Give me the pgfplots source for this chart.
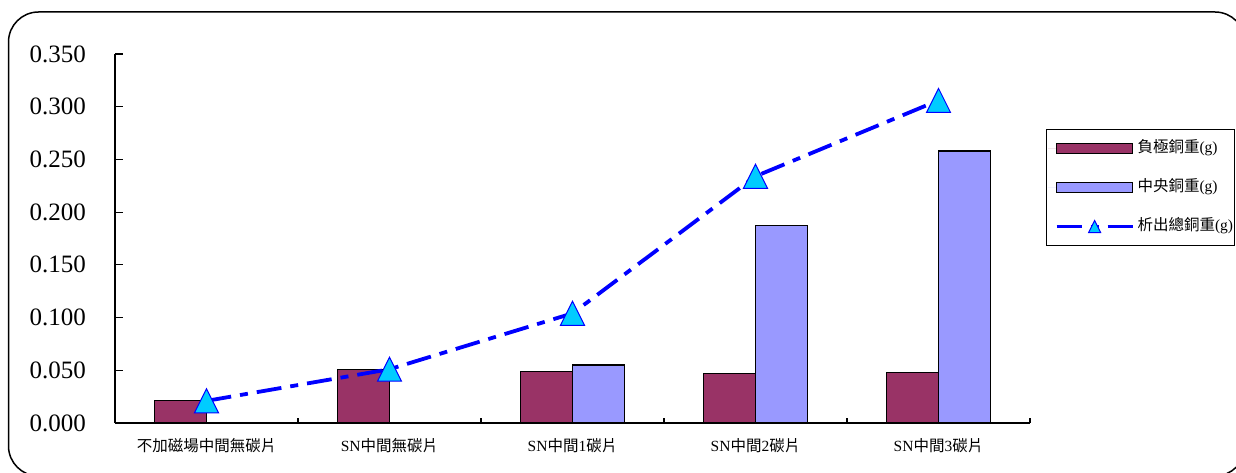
\documentclass[border=0pt]{standalone}
\usepackage{pgfplots}
\pgfplotsset{compat=1.18}
\usepackage{fontspec}
\setmainfont{Liberation Serif}
\newfontfamily\cjk{Noto Sans CJK TC}

\definecolor{plum}{HTML}{993366}
\definecolor{periwinkle}{HTML}{9999FF}
\definecolor{skycyan}{HTML}{00CCFF}

% triangle markers: a large one for the data, a small one for the legend
\pgfdeclareplotmark{bigtri}{%
  \pgfpathmoveto{\pgfqpoint{0pt}{12pt}}%
  \pgfpathlineto{\pgfqpoint{-12pt}{-12pt}}%
  \pgfpathlineto{\pgfqpoint{12pt}{-12pt}}%
  \pgfpathclose
  \pgfusepathqfillstroke}
\pgfdeclareplotmark{smalltri}{%
  \pgfpathmoveto{\pgfqpoint{0pt}{6pt}}%
  \pgfpathlineto{\pgfqpoint{-6pt}{-6pt}}%
  \pgfpathlineto{\pgfqpoint{6pt}{-6pt}}%
  \pgfpathclose
  \pgfusepathqfillstroke}

\pgfplotsset{
  barlegend/.style={legend image code/.code={%
    \path[draw=none] (-8.5pt,0pt) -- (0pt,0pt);
    \draw[##1] (0pt,-5pt) rectangle (76pt,5pt);}},
  linelegend/.style={legend image code/.code={%
    \path[draw=none] (-8.5pt,0pt) -- (0pt,0pt);
    \draw[mark repeat=2, mark phase=2, ##1, mark=smalltri]
      plot coordinates {(0pt,0pt) (38pt,0pt) (76pt,0pt)};}},
}

\begin{document}
\begin{tikzpicture}
\useasboundingbox (0pt,0pt) rectangle (1236pt,472pt);
% rounded chart frame
\draw[line width=1.5pt, rounded corners=30pt] (8.5pt,460pt) rectangle (1245pt,-4pt);

\begin{axis}[
  at={(115pt,49pt)}, anchor=south west,
  scale only axis, width=915pt, height=369pt,
  xmin=0.5, xmax=5.5, ymin=0, ymax=0.35,
  axis x line*=bottom, axis y line*=left,
  axis line style={line width=1.2pt, black},
  tick align=inside,
  tick style={line width=1.2pt, black},
  major tick length=8pt, minor tick length=5pt,
  xtick={1,2,3,4,5},
  major x tick style={draw=none},
  minor xtick={1.5,2.5,3.5,4.5,5.5},
  xticklabels={
    {\cjk 不加磁場中間無碳片},
    SN{\cjk 中間無碳片},
    SN{\cjk 中間}1{\cjk 碳片},
    SN{\cjk 中間}2{\cjk 碳片},
    SN{\cjk 中間}3{\cjk 碳片}},
  xticklabel style={font=\fontsize{15.5}{16}\selectfont, inner sep=0pt, yshift=-15pt},
  ytick={0,0.05,0.1,0.15,0.2,0.25,0.3,0.35},
  yticklabel style={font=\fontsize{25}{25}\selectfont, inner sep=0pt, xshift=-29pt},
  /pgf/number format/.cd, fixed, fixed zerofill, precision=3, assume math mode=true,
  /pgfplots/.cd,
  legend cell align=left,
  legend style={at={(1.0175,0.797)}, anchor=north west,
    draw=black, line width=1.2pt,
    inner xsep=1.5pt, inner ysep=11pt,
    font=\fontsize{15.5}{18}\selectfont,
    row sep=23pt, /tikz/column sep=3pt,
    nodes={inner sep=0pt, text height=12pt, text depth=4pt}},
]

% negative electrode copper weight
\addplot[ybar, bar width=52pt, bar shift=-26pt, fill=plum, draw=black, line width=1.2pt, barlegend]
  coordinates {(1,0.021) (2,0.051) (3,0.049) (4,0.047) (5,0.048)};
\addlegendentry{{\cjk 負極銅重}(g)}

% center copper weight
\addplot[ybar, bar width=52pt, bar shift=26pt, fill=periwinkle, draw=black, line width=1.2pt, barlegend]
  coordinates {(3,0.055) (4,0.187) (5,0.258)};
\addlegendentry{{\cjk 中央銅重}(g)}

% total deposited copper weight
\addplot[blue, line width=3.8pt, dash pattern=on 25pt off 9pt on 8pt off 9pt,
  mark=bigtri, mark options={solid, fill=skycyan, draw=blue, line width=1pt}, linelegend]
  coordinates {(1,0.021) (2,0.051) (3,0.104) (4,0.234) (5,0.306)};
\addlegendentry{{\cjk 析出總銅重}(g)}

\end{axis}
\end{tikzpicture}
\end{document}
